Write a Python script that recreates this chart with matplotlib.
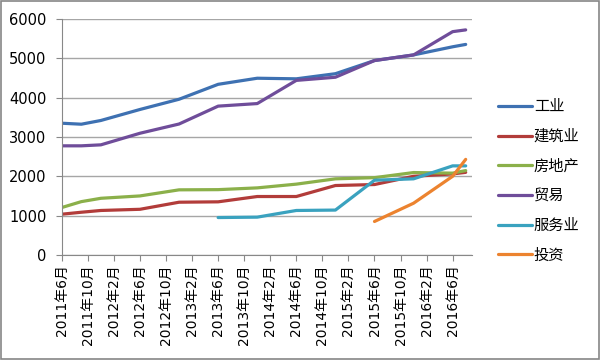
import numpy as np
import matplotlib
matplotlib.use("Agg")
import matplotlib.pyplot as plt
from matplotlib.patches import Rectangle

plt.rcParams['font.family'] = ['DejaVu Sans', 'Noto Sans CJK SC']

# ── Data ─────────────────────────────────────────────────────────────────────
dates = ["2011-06", "2011-09", "2011-12", "2012-06", "2012-12", "2013-06", "2013-12",
         "2014-06", "2014-12", "2015-06", "2015-12", "2016-06", "2016-08"]
nan = np.nan
industry     = [3350, 3325, 3420, 3700, 3960, 4340, 4495, 4480, 4610, 4945, 5088, 5295, 5355]
construction = [1035, 1085, 1130, 1160, 1340, 1350, 1485, 1485, 1765, 1790, 2000, 2060, 2100]
real_estate  = [1205, 1355, 1440, 1500, 1655, 1660, 1705, 1800, 1935, 1965, 2095, 2080, 2145]
trade        = [2775, 2775, 2800, 3095, 3330, 3785, 3850, 4440, 4520, 4945, 5088, 5680, 5725]
services     = [nan, nan, nan, nan, nan, 950, 960, 1130, 1140, 1900, 1935, 2265, 2265]
investment   = [nan, nan, nan, nan, nan, nan, nan, nan, nan, 850, 1315, 2000, 2430]

series_names = ["工业", "建筑业", "房地产", "贸易", "服务业", "投资"]
tick_labels = ["2011年6月", "2011年10月", "2012年2月", "2012年6月", "2012年10月", "2013年2月",
               "2013年6月", "2013年10月", "2014年2月", "2014年6月", "2014年10月", "2015年2月",
               "2015年6月", "2015年10月", "2016年2月", "2016年6月"]

COLORS = ["#3E71B2", "#B23C3A", "#8BB04A", "#6F4D9A", "#3AA2BF", "#EC832F"]


def month_index(s, start=(2011, 6)):
    y, m = map(int, s.split("-"))
    return (y - start[0]) * 12 + (m - start[1])


x = np.array([month_index(d) for d in dates])
tick_pos = np.arange(0, 4 * len(tick_labels), 4)

# ── Plot ─────────────────────────────────────────────────────────────────────
fig = plt.figure(figsize=(6, 3.6), dpi=100)
ax = fig.add_axes([0.103, 0.292, 0.684, 0.655])

all_series = [industry, construction, real_estate, trade, services, investment]
for vals, name, c in zip(all_series, series_names, COLORS):
    ax.plot(x, vals, color=c, lw=2.3, label=name, solid_capstyle="round")

ax.set_xlim(0, 63)
ax.set_ylim(0, 6000)
ax.set_yticks(range(0, 6001, 1000))
ax.yaxis.grid(True, color="#A6A6A6", lw=1)
ax.set_axisbelow(True)

ax.set_xticks(tick_pos)
ax.set_xticklabels(tick_labels, rotation=90, fontsize=10)
ax.tick_params(axis="x", length=4, color="#888888", pad=3)
ax.tick_params(axis="y", length=4, color="#888888", pad=7, labelsize=10.5)

for side in ["top", "right"]:
    ax.spines[side].set_visible(False)
for side in ["left", "bottom"]:
    ax.spines[side].set_color("#888888")

leg = fig.legend(loc="upper left", bbox_to_anchor=(0.807, 0.765), frameon=False,
                 prop={"family": ["Noto Sans CJK SC"], "size": 11},
                 handlelength=2.2, handletextpad=0.15, labelspacing=0.83)

# outer frame of the chart
fig.patches.append(Rectangle((0.002, 0.003), 0.996, 0.994, transform=fig.transFigure,
                             fill=False, edgecolor="#868686", lw=1.2))

plt.savefig("out.png", dpi=100)
